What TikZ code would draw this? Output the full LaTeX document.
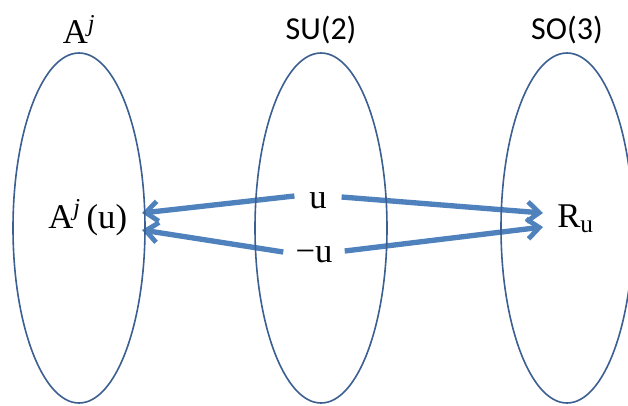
\documentclass[tikz,border=0pt]{standalone}
\usepackage{fontspec}
\setmainfont{Liberation Serif}
\newfontfamily\grpfont{Carlito}
\usetikzlibrary{arrows.meta,positioning,shapes.geometric}
\definecolor{rim}{HTML}{3A5F90}
\definecolor{acc}{HTML}{4F81BD}

\begin{document}
\begin{tikzpicture}[x=0.75pt,y=-0.75pt,node distance=4pt,
  grp/.style={draw=rim,line width=1.2pt,ellipse,minimum width=99pt,minimum height=262.5pt,inner sep=0pt},
  grpname/.style={font=\grpfont\fontsize{24}{28}\selectfont,inner sep=2pt},
  elem/.style={font=\fontsize{26}{30}\selectfont,inner ysep=0pt},
  map/.style={draw=acc,line width=4pt,-{Straight Barb[length=9pt,width=15pt,line width=3.6pt]}}]
\path[use as bounding box] (0,0) rectangle (628,405);
\clip (0,0) rectangle (628,405);
% elements
\node[elem,inner xsep=11pt,anchor=base east] (Au) at (142,228) {A\textsuperscript{\itshape j}\,(u)};
\node[elem,inner xsep=11pt,anchor=base] (u) at (318,208) {u};
\node[elem,inner xsep=9pt,anchor=base] (mu) at (314,262) {−u};
\node[elem,inner xsep=10.5pt,anchor=base west] (Ru) at (543,227) {R\raisebox{-4pt}{\fontsize{19}{22}\selectfont u}};
% maps
\draw[map] ([yshift=9pt]u.base west) -- ([yshift=11.25pt]Au.base east);
\draw[map] ([yshift=8.25pt]u.base east) -- ([yshift=10.5pt]Ru.base west);
\draw[map] ([yshift=7.5pt]mu.base west) -- ([yshift=-1.5pt]Au.base east);
\draw[map] ([yshift=8.25pt]mu.base east) -- (Ru.base west);
% groups
\node[grp] (Aset) at (79,228) {};
\node[grp] (SUset) at (321,228) {};
\node[grp] (SOset) at (567,228) {};
\node[grpname,above=of Aset,font=\fontsize{26}{30}\selectfont] (Alab) {A\textsuperscript{\itshape j}};
\node[grpname,above=of SUset] (SUlab) {SU(2)};
\node[grpname,above=of SOset] (SOlab) {SO(3)};
\end{tikzpicture}
\end{document}
